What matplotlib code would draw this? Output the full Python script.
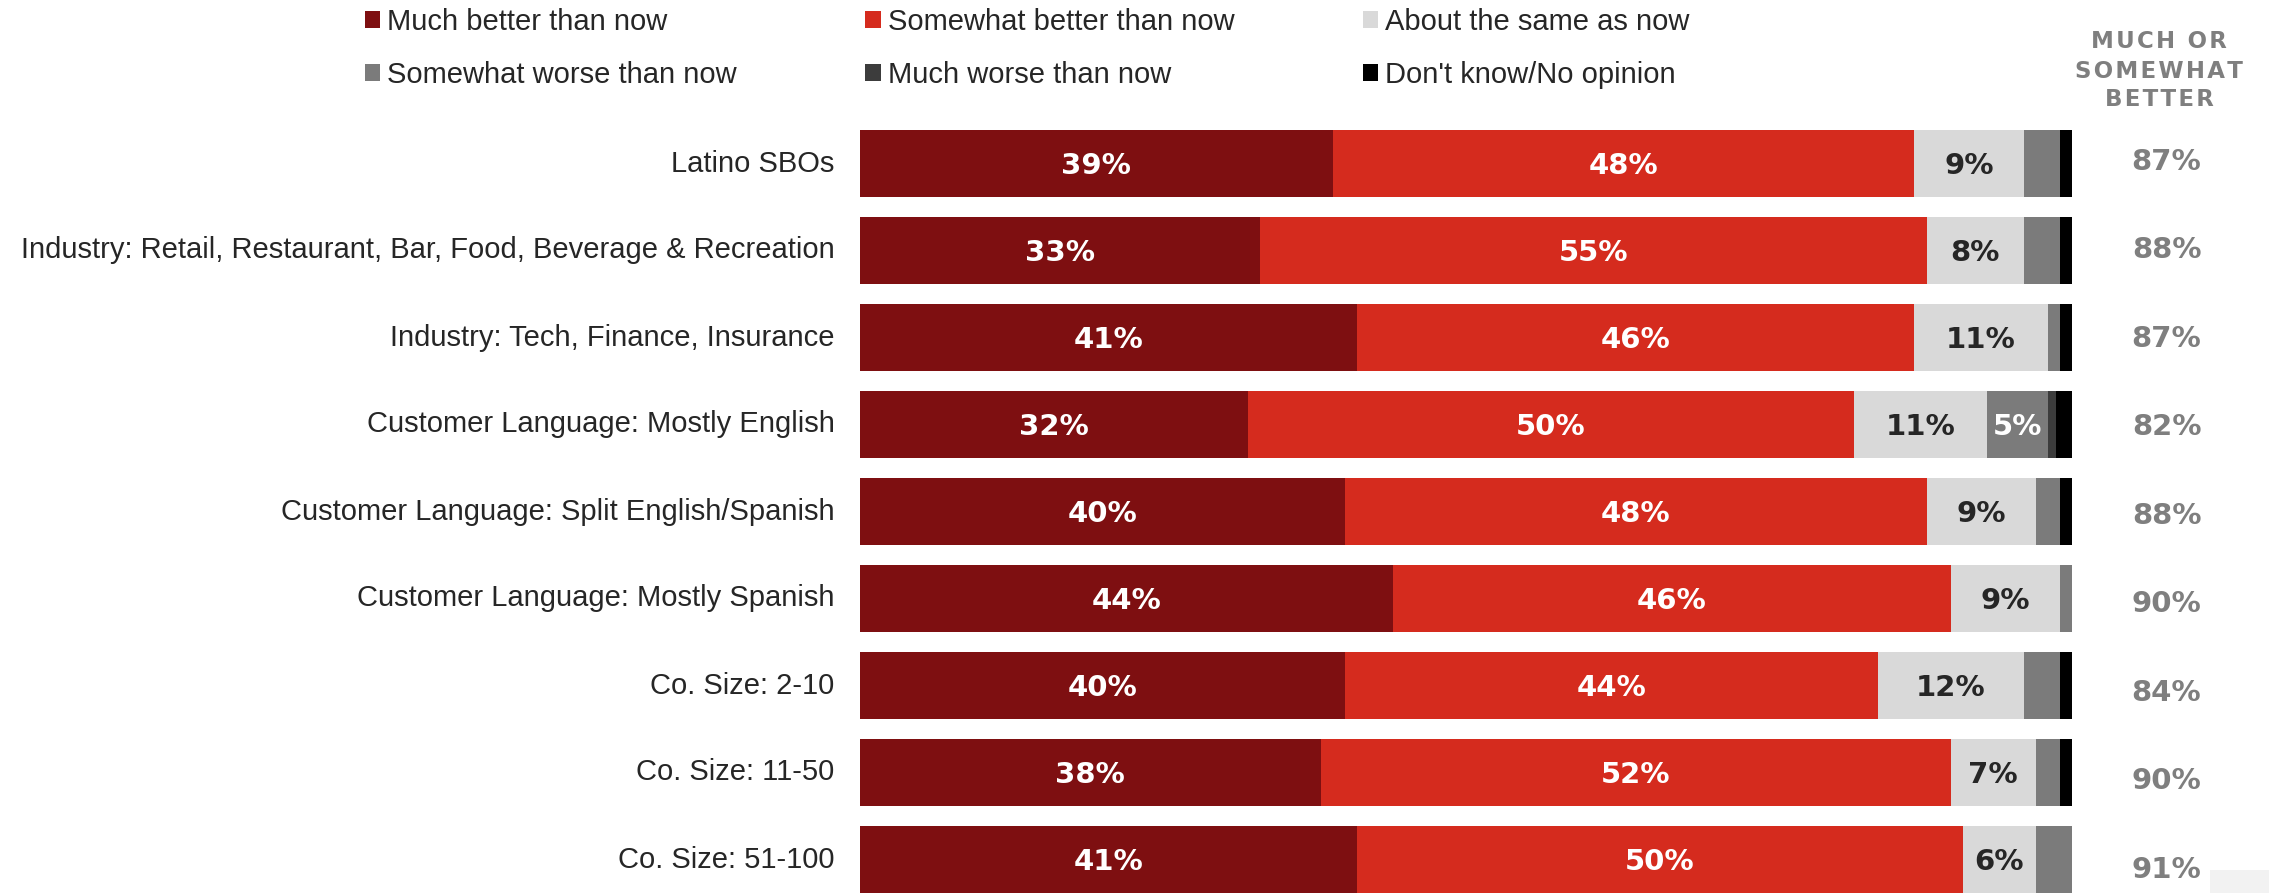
import matplotlib.pyplot as plt
from matplotlib.patches import Patch, Rectangle
import numpy as np

categories = [
    "Latino SBOs",
    "Industry: Retail, Restaurant, Bar, Food, Beverage & Recreation",
    "Industry: Tech, Finance, Insurance",
    "Customer Language: Mostly English",
    "Customer Language: Split English/Spanish",
    "Customer Language: Mostly Spanish",
    "Co. Size: 2-10",
    "Co. Size: 11-50",
    "Co. Size: 51-100",
]
much_better = [39, 33, 41, 32, 40, 44, 40, 38, 41]
somewhat_better = [48, 55, 46, 50, 48, 46, 44, 52, 50]
about_same = [9, 8, 11, 11, 9, 9, 12, 7, 6]
somewhat_worse = [3, 3, 1, 5, 2, 1, 3, 2, 3]
much_worse = [0, 0, 0, 0.7, 0, 0, 0, 0, 0]
dont_know = [1, 1, 1, 1.3, 1, 0, 1, 1, 0]

series_names = ["Much better than now", "Somewhat better than now", "About the same as now",
                "Somewhat worse than now", "Much worse than now", "Don't know/No opinion"]
series = [much_better, somewhat_better, about_same, somewhat_worse, much_worse, dont_know]
colors = ["#7e0f11", "#d52b1e", "#d9d9d9", "#7b7b7b", "#3c3c3c", "#000000"]
text_colors = ["white", "white", "#262626", "white", "white", "white"]

net_better = np.array(much_better) + np.array(somewhat_better)

W, H = 2269, 893
fig = plt.figure(figsize=(W / 100, H / 100), dpi=100)
# axes placed in pixel terms: bars start at x=860, 100% = 1212 px, rows every 87 px
ax = fig.add_axes([860 / W, 1 - 903 / H, 1212 / W, 783 / H])
ax.set_xlim(0, 100)
ax.set_ylim(8.5, -0.5)
ax.axis("off")

y = np.arange(len(categories))
left = np.zeros(len(categories))
for vals, col, tcol in zip(series, colors, text_colors):
    vals = np.array(vals, dtype=float)
    ax.barh(y, vals, left=left, height=0.77, color=col, edgecolor="none")
    for yi, l, v in zip(y, left, vals):
        if v >= 5:
            ax.text(l + v / 2, yi + 0.03, f"{v:.0f}%", ha="center", va="center",
                    color=tcol, fontsize=21, fontweight="bold", family="DejaVu Sans")
    left += vals

for yi, name in zip(y, categories):
    ax.text(-2.1, yi, name, ha="right", va="center", fontsize=21,
            family="Liberation Sans", color="#262626")

for yi, v in zip(y, net_better):
    ax.text(107.8, -0.017 + 1.017 * yi, f"{v}%", ha="center", va="center",
            fontsize=21, fontweight="bold", family="DejaVu Sans", color="#7f7f7f")

# column header, letter-spaced
for line, ypx in zip(["MUCH OR", "SOMEWHAT", "BETTER"], [42, 71, 99]):
    fig.text(2159 / W, 1 - ypx / H, "\u200a".join(line), ha="center", va="center",
             fontsize=16.5, fontweight="bold", family="DejaVu Sans", color="#7f7f7f")

order = [0, 3, 1, 4, 2, 5]
handles = [Patch(facecolor=colors[i], edgecolor="none") for i in order]
labels = [series_names[i] for i in order]
leg = fig.legend(handles, labels, loc="upper left", bbox_to_anchor=(365 / W, 1 - 8 / H),
                 ncol=3, frameon=False, borderpad=0, borderaxespad=0,
                 handlelength=0.52, handleheight=0.52, handletextpad=0.25,
                 columnspacing=4.4, labelspacing=0.85,
                 prop={"family": "Liberation Sans", "size": 21})
for t in leg.get_texts():
    t.set_color("#262626")

fig.patches.append(Rectangle((2210 / W, 0), 59 / W, 23 / H, transform=fig.transFigure,
                             facecolor="#f2f2f2", edgecolor="none"))

fig.savefig("out.png", dpi=100)
